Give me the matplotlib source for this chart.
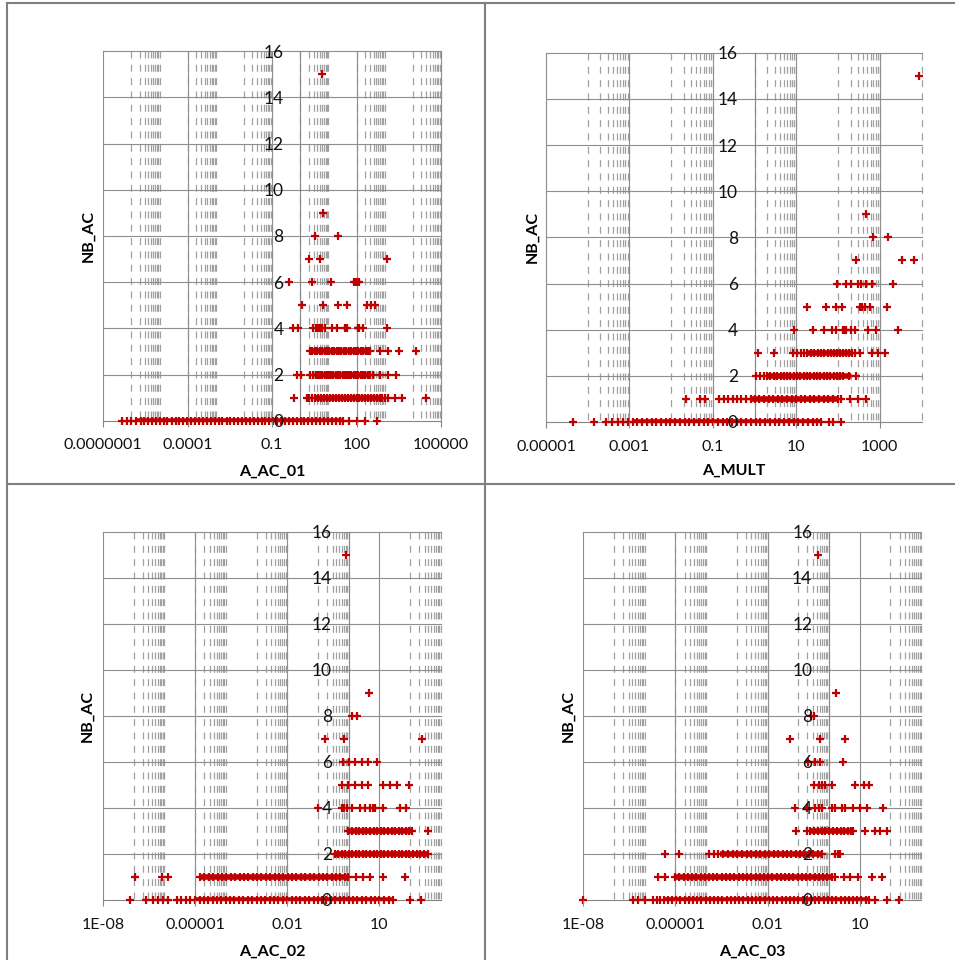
import matplotlib
matplotlib.use("Agg")
import matplotlib.pyplot as plt
import matplotlib.ticker as mticker
from matplotlib.lines import Line2D

plt.rcParams['font.family'] = ['Lato', 'DejaVu Sans']
plt.rcParams['lines.scale_dashes'] = False

# ---- A_AC_01 (top left): x values for each NB_AC level ----
ac01_nb0 = [4.5e-7, 6.8e-7, 1.0e-6, 1.5e-6, 2.1e-6, 2.9e-6, 4.0e-6, 5.5e-6, 7.5e-6,
            1.0e-5, 1.4e-5, 1.9e-5, 2.7e-5, 3.7e-5, 5.1e-5, 7.0e-5, 9.5e-5, 1.3e-4,
            1.8e-4, 2.5e-4, 3.5e-4, 4.8e-4, 6.6e-4, 9.0e-4, 1.25e-3, 1.7e-3, 2.4e-3,
            3.3e-3, 4.5e-3, 6.2e-3, 8.5e-3, 0.012, 0.016, 0.022, 0.031, 0.042, 0.058,
            0.08, 0.11, 0.15, 0.21, 0.29, 0.4, 0.55, 0.75, 1.03, 1.4, 1.95, 2.7, 3.7,
            5.1, 7.0, 9.6, 13.2, 18, 25, 34, 56, 102, 201, 550]
ac01_nb1 = [0.62, 1.7, 2.1, 2.7, 3.4, 4.3, 5.5, 7, 9, 11.5, 14.5, 18.5, 23.5, 30, 38, 48,
            61, 78, 100, 127, 160, 205, 260, 330, 420, 530, 670, 800, 1000, 1350, 2340,
            4060, 29000]
ac01_nb2 = [0.75, 1.04, 2.2, 2.8, 3.5, 4.2, 5.1, 6.1, 7.3, 8.8, 10.5, 12.5, 15, 18, 22, 26,
            32, 38, 46, 55, 66, 80, 96, 116, 140, 170, 205, 250, 300, 390, 690, 1350, 2540]
ac01_nb3 = [2.2, 2.7, 3.3, 4.0, 4.9, 6.0, 7.3, 8.9, 10.8, 13.2, 16, 19.5, 24, 29, 35, 43,
            52, 64, 78, 95, 116, 140, 172, 210, 255, 302, 690, 1260, 3340, 13000]
ac01_nb4 = [0.57, 0.86, 2.9, 3.6, 4.3, 5.2, 6.0, 7.6, 13.2, 19.9, 39, 45, 108, 116, 125,
            174, 1250]
ac01_nb5 = [1.19, 6.3, 22.6, 45, 235, 320, 460]
ac01_nb6 = [0.39, 2.6, 12, 78, 88, 98, 110, 120]
ac01_nb7 = [2.0, 5.2, 1230]
ac01_nb8 = [3.4, 22]
ac01_nb9 = [6.6]
ac01_nb15 = [5.9]
# stretches where the crosses overlap into a solid run
ac01_run_nb = [0, 1, 2, 3, 3]
ac01_run_lo = [1.55e-6, 3.4, 4.5, 2.5, 25]
ac01_run_hi = [34, 800, 280, 20, 250]

# ---- A_MULT (top right) ----
mult_nb0 = [4.5e-5, 1.4e-4, 2.7e-4, 3.9e-4, 5.3e-4, 7.0e-4, 9.2e-4, 1.2e-3, 1.55e-3,
            2.0e-3, 2.6e-3, 3.4e-3, 4.4e-3, 5.7e-3, 7.4e-3, 9.6e-3, 0.0125, 0.016, 0.021,
            0.027, 0.035, 0.046, 0.06, 0.078, 0.1, 0.13, 0.17, 0.22, 0.29, 0.37, 0.48,
            0.63, 0.82, 1.06, 1.38, 1.8, 2.3, 3.0, 3.9, 5.1, 6.6, 8.6, 11.2, 14.5, 19,
            24.5, 32, 39, 62, 75, 119]
mult_nb1 = [0.023, 0.048, 0.066, 0.14, 0.18, 0.23, 0.3, 0.38, 0.48, 0.62, 0.8, 1.0, 1.3,
            1.7, 2.2, 2.8, 3.6, 4.6, 6.0, 7.7, 10, 13, 16.5, 21, 27, 35, 45, 58, 75, 100,
            119, 190, 305, 480]
mult_nb2 = [1.06, 1.32, 1.68, 2.0, 2.4, 2.9, 3.5, 4.2, 5.0, 6.0, 7.2, 8.6, 10.3, 12.4, 15,
            18, 21.5, 26, 31, 37, 45, 54, 65, 78, 94, 113, 135, 180, 275]
mult_nb3 = [1.23, 2.9, 8.1, 10.5, 13, 15.5, 18.5, 22, 27, 33, 40, 47, 56, 66, 78, 92, 110,
            130, 155, 185, 215, 250, 330, 635, 915, 1330]
mult_nb4 = [8.9, 25, 46, 72, 91, 132, 145, 158, 210, 252, 530, 830, 2800]
mult_nb5 = [18, 52, 91, 124, 330, 380, 435, 575, 1450]
mult_nb6 = [95, 155, 205, 300, 350, 480, 640, 2050]
mult_nb7 = [265, 3400, 6600]
mult_nb8 = [680, 1560]
mult_nb9 = [460]
mult_nb15 = [8950]
mult_run_nb = [0, 1, 2, 3]
mult_run_lo = [1.2e-3, 0.8, 2.0, 18]
mult_run_hi = [39, 100, 200, 230]

# ---- A_AC_02 (bottom left) ----
ac02_nb0 = [7.6e-8, 2.45e-7, 4.4e-7, 6.3e-7, 9.1e-7, 1.35e-6, 2.5e-6, 3.6e-6, 5.0e-6,
            6.8e-6, 1.0e-5, 1.4e-5, 1.9e-5, 2.7e-5, 3.7e-5, 5.2e-5, 7.2e-5, 1.0e-4,
            1.4e-4, 1.9e-4, 2.7e-4, 3.7e-4, 5.2e-4, 7.2e-4, 1.0e-3, 1.4e-3, 1.9e-3,
            2.7e-3, 3.7e-3, 5.2e-3, 7.2e-3, 0.01, 0.014, 0.019, 0.027, 0.037, 0.052,
            0.072, 0.1, 0.14, 0.19, 0.27, 0.37, 0.52, 0.72, 1.0, 1.4, 1.9, 2.7, 3.7, 5.2,
            7.2, 10, 14, 20, 28.5, 100, 222]
ac02_nb1 = [1.1e-7, 8.1e-7, 1.35e-6, 1.45e-5, 2.0e-5, 2.8e-5, 3.9e-5, 5.4e-5, 7.5e-5,
            1.05e-4, 1.45e-4, 2.0e-4, 2.8e-4, 3.9e-4, 5.4e-4, 7.5e-4, 1.05e-3, 1.45e-3,
            2.0e-3, 2.8e-3, 3.9e-3, 5.4e-3, 7.5e-3, 0.0105, 0.0145, 0.02, 0.028, 0.039,
            0.054, 0.075, 0.105, 0.145, 0.2, 0.28, 0.39, 0.54, 0.75, 0.98, 1.8, 3.0, 4.9,
            13, 68]
ac02_nb2 = [0.36, 0.46, 0.6, 0.78, 1.0, 1.3, 1.7, 2.2, 2.9, 3.8, 5.0, 6.5, 8.5, 11, 14.5,
            19, 25, 33, 43, 56, 73, 95, 125, 165, 215, 280, 400]
ac02_nb3 = [0.98, 1.3, 1.7, 2.2, 2.9, 3.8, 5.0, 6.5, 8.5, 11, 14.5, 19, 25, 33, 43, 56, 73,
            95, 114, 380]
ac02_nb4 = [0.1, 0.6, 0.71, 0.87, 1.26, 2.35, 3.4, 5.0, 6.2, 7.2, 12.9, 47, 74]
ac02_nb5 = [0.6, 0.98, 1.6, 2.7, 4.3, 13.5, 22.4, 37, 96]
ac02_nb6 = [0.66, 1.03, 1.6, 2.7, 4.3, 8.4]
ac02_nb7 = [0.17, 0.71, 245]
ac02_nb8 = [1.29, 1.86]
ac02_nb9 = [4.6]
ac02_nb15 = [0.82]
ac02_run_nb = [0, 1, 2, 3]
ac02_run_lo = [1.0e-5, 1.45e-5, 0.4, 1.0]
ac02_run_hi = [28.5, 0.98, 380, 114]

# ---- A_AC_03 (bottom right) ----
ac03_nb0 = [1e-8, 4.3e-7, 6.2e-7, 1.03e-6, 1.9e-6, 2.5e-6, 3.2e-6, 4.1e-6, 5.6e-6, 7.7e-6,
            1.05e-5, 1.45e-5, 2.0e-5, 2.7e-5, 3.7e-5, 5.1e-5, 7.0e-5, 9.6e-5, 1.3e-4,
            1.8e-4, 2.5e-4, 3.4e-4, 4.7e-4, 6.4e-4, 8.8e-4, 1.2e-3, 1.65e-3, 2.3e-3,
            3.1e-3, 4.3e-3, 5.9e-3, 8.1e-3, 0.011, 0.015, 0.021, 0.029, 0.039, 0.054,
            0.074, 0.1, 0.14, 0.19, 0.26, 0.36, 0.49, 0.67, 0.92, 1.26, 1.7, 2.4, 3.3,
            4.5, 6.1, 8.4, 11.5, 15.7, 19.6, 32, 78, 186]
ac03_nb1 = [2.8e-6, 4.6e-6, 9.8e-6, 1.35e-5, 1.85e-5, 2.5e-5, 3.5e-5, 4.8e-5, 6.6e-5,
            9.0e-5, 1.25e-4, 1.7e-4, 2.3e-4, 3.2e-4, 4.4e-4, 6.0e-4, 8.3e-4, 1.15e-3,
            1.6e-3, 2.2e-3, 3.0e-3, 4.1e-3, 5.6e-3, 7.7e-3, 0.0105, 0.0145, 0.02, 0.027,
            0.037, 0.051, 0.07, 0.096, 0.13, 0.18, 0.25, 0.34, 0.47, 0.65, 0.89, 1.26,
            1.6, 3.0, 5.0, 9.2, 25, 53]
ac03_nb2 = [4.5e-6, 1.34e-5, 1.2e-4, 1.75e-4, 2.5e-4, 3.6e-4, 5.2e-4, 7.5e-4, 1.05e-3,
            1.5e-3, 2.1e-3, 3.0e-3, 4.2e-3, 5.9e-3, 8.3e-3, 0.0115, 0.016, 0.022, 0.031,
            0.043, 0.06, 0.083, 0.115, 0.16, 0.22, 0.31, 0.43, 0.59, 1.6, 2.0, 2.34]
ac03_nb3 = [0.086, 0.19, 0.25, 0.33, 0.44, 0.58, 0.77, 1.0, 1.35, 1.8, 2.4, 3.2, 4.2, 5.3,
            6.3, 15, 32, 47, 78]
ac03_nb4 = [0.079, 0.19, 0.34, 0.47, 0.59, 1.26, 1.6, 2.66, 3.4, 6.3, 10.5, 17.3, 60]
ac03_nb5 = [0.32, 0.46, 0.59, 0.76, 1.25, 7.2, 13.5, 19.7]
ac03_nb6 = [0.21, 0.36, 0.5, 2.9]
ac03_nb7 = [0.055, 0.53, 3.4]
ac03_nb8 = [0.26, 0.32]
ac03_nb9 = [1.74]
ac03_nb15 = [0.45]
ac03_run_nb = [0, 1, 2, 3]
ac03_run_lo = [4.1e-6, 9.8e-6, 2.8e-4, 0.22]
ac03_run_hi = [19.6, 1.26, 0.59, 6.3]

nb_levels = [0, 1, 2, 3, 4, 5, 6, 7, 8, 9, 15]
y_ticks = [0, 2, 4, 6, 8, 10, 12, 14, 16]

RED = '#c00000'
GRID = '#8e8e8e'
MINOR = '#a0a0a0'
AXIS = '#868686'

panels = [
    dict(rect=[103.3 / 955, 1 - 420.7 / 960, 337.7 / 955, 369.6 / 960],
         rows=[ac01_nb0, ac01_nb1, ac01_nb2, ac01_nb3, ac01_nb4, ac01_nb5, ac01_nb6,
               ac01_nb7, ac01_nb8, ac01_nb9, ac01_nb15],
         runs=(ac01_run_nb, ac01_run_lo, ac01_run_hi),
         xlim=(1e-7, 1e5), majors=[1e-7, 1e-4, 1e-1, 1e2, 1e5],
         labels=['0.0000001', '0.0001', '0.1', '100', '100000'],
         minor_dec=[-6, -4, -2, 0, 2, 4], xlabel='A_AC_01', ylx=-0.045, xly=-0.149),
    dict(rect=[546 / 955, 1 - 422 / 960, 375.5 / 955, 369.2 / 960],
         rows=[mult_nb0, mult_nb1, mult_nb2, mult_nb3, mult_nb4, mult_nb5, mult_nb6,
               mult_nb7, mult_nb8, mult_nb9, mult_nb15],
         runs=(mult_run_nb, mult_run_lo, mult_run_hi),
         xlim=(1e-5, 1e4), majors=[1e-5, 1e-3, 1e-1, 1e1, 1e3],
         labels=['0.00001', '0.001', '0.1', '10', '1000'],
         minor_dec=[-4, -2, 0, 2, 4], xlabel='A_MULT', ylx=-0.035, xly=-0.144),
    dict(rect=[103 / 955, 1 - 900 / 960, 337.7 / 955, 368 / 960],
         rows=[ac02_nb0, ac02_nb1, ac02_nb2, ac02_nb3, ac02_nb4, ac02_nb5, ac02_nb6,
               ac02_nb7, ac02_nb8, ac02_nb9, ac02_nb15],
         runs=(ac02_run_nb, ac02_run_lo, ac02_run_hi),
         xlim=(1e-8, 1e3), majors=[1e-8, 1e-5, 1e-2, 1e1],
         labels=['1E-08', '0.00001', '0.01', '10'],
         minor_dec=[-7, -5, -3, -1, 2], xlabel='A_AC_02', ylx=-0.045, xly=-0.151),
    dict(rect=[583.3 / 955, 1 - 900 / 960, 337.7 / 955, 368 / 960],
         rows=[ac03_nb0, ac03_nb1, ac03_nb2, ac03_nb3, ac03_nb4, ac03_nb5, ac03_nb6,
               ac03_nb7, ac03_nb8, ac03_nb9, ac03_nb15],
         runs=(ac03_run_nb, ac03_run_lo, ac03_run_hi),
         xlim=(1e-8, 1e3), majors=[1e-8, 1e-5, 1e-2, 1e1],
         labels=['1E-08', '0.00001', '0.01', '10'],
         minor_dec=[-7, -5, -3, -1, 2], xlabel='A_AC_03', ylx=-0.045, xly=-0.151),
]

fig = plt.figure(figsize=(9.55, 9.6), dpi=100)

for p in panels:
    ax = fig.add_axes(p['rect'])
    ax.set_xscale('log')
    ax.set_xlim(*p['xlim'])
    ax.set_ylim(0, 16)
    xt = ax.get_xaxis_transform()

    # dashed minor gridlines (drawn top to bottom so the dashes start at the top)
    for e in p['minor_dec']:
        for k in range(1, 11):
            v = k * 10.0 ** e
            if p['xlim'][0] <= v <= p['xlim'][1] * 1.001:
                ax.plot([v, v], [1, 0], transform=xt, color=MINOR, lw=0.9,
                        ls=(0, (5.0, 4.6)), zorder=0.5, clip_on=False)
    # solid major gridlines
    for v in p['majors']:
        ax.plot([v, v], [1, 0], transform=xt, color=GRID, lw=0.8, zorder=0.6, clip_on=False)
    for y in y_ticks[1:]:
        ax.axhline(y, color=GRID, lw=0.8, zorder=0.6, clip_on=False)

    run_nb, run_lo, run_hi = p['runs']
    ax.hlines(run_nb, run_lo, run_hi, color=RED, lw=4.0, zorder=2)
    for nb, xs in zip(nb_levels, p['rows']):
        ax.plot(xs, [nb] * len(xs), ls='none', marker='+', ms=5.5, mew=1.6,
                color=RED, zorder=2, clip_on=False)

    # axes: horizontal at 0, vertical crossing at x = 1
    for s in ['top', 'right']:
        ax.spines[s].set_visible(False)
    ax.spines['left'].set_position(('data', 1))
    for s in ['left', 'bottom']:
        ax.spines[s].set_color(AXIS)
        ax.spines[s].set_linewidth(0.8)
        ax.spines[s].set_zorder(1)

    ax.set_xticks(p['majors'], p['labels'])
    ax.xaxis.set_minor_locator(mticker.NullLocator())
    ax.set_yticks(y_ticks, [str(v) for v in y_ticks])
    ax.tick_params(axis='x', direction='out', length=4.3, width=0.8, color=AXIS,
                   labelsize=11.5, pad=8.5, labelcolor='#111111')
    ax.tick_params(axis='y', length=0, labelsize=12.5, pad=12.0, labelcolor='#111111')
    ax.xaxis.set_zorder(3)
    ax.yaxis.set_zorder(3)

    ax.set_xlabel(p['xlabel'], fontsize=11.5, fontweight='bold', va='baseline')
    ax.xaxis.set_label_coords(0.5, p['xly'])
    ax.set_ylabel('NB_AC', fontsize=11.5, fontweight='bold', va='center')
    ax.yaxis.set_label_coords(p['ylx'], 0.5)

# table borders around the four charts
border = dict(color='#7f7f7f', lw=1.5, transform=fig.transFigure)
fig.add_artist(Line2D([7.3 / 955, 7.3 / 955], [0, 1 - 2.7 / 960], **border))
fig.add_artist(Line2D([7.3 / 955, 1], [1 - 2.7 / 960, 1 - 2.7 / 960], **border))
fig.add_artist(Line2D([485.3 / 955, 485.3 / 955], [0, 1 - 2.7 / 960], **border))
fig.add_artist(Line2D([7.3 / 955, 1], [1 - 483.5 / 960, 1 - 483.5 / 960], **border))

fig.savefig('out.png', dpi=100)
